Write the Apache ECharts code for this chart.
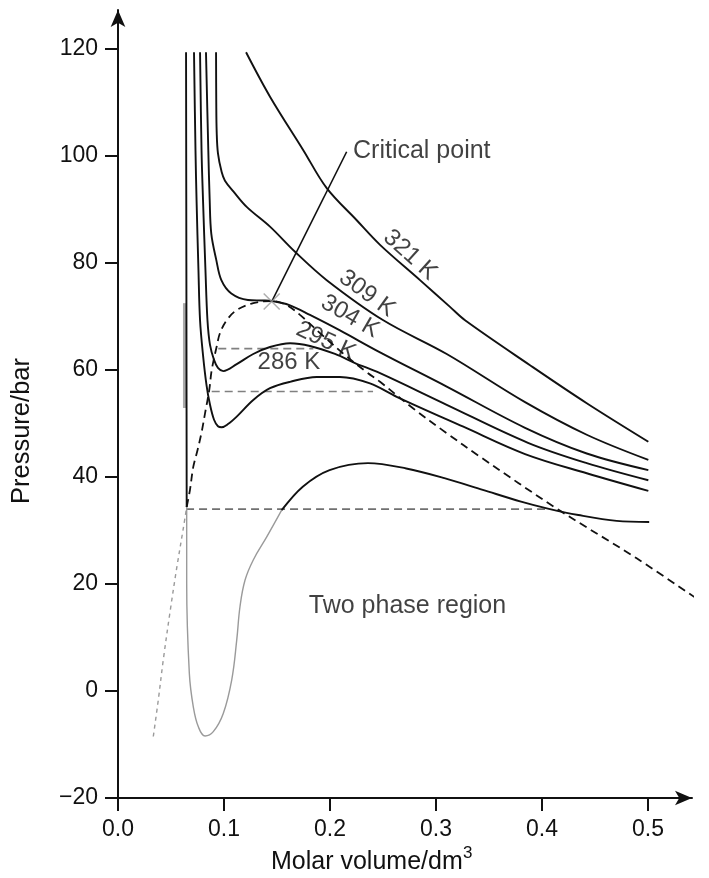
<!DOCTYPE html>
<html><head><meta charset="utf-8">
<script src="https://cdn.jsdelivr.net/npm/echarts@6/dist/echarts.min.js"></script>
<style>html,body{margin:0;padding:0;background:#fff}#c{width:709px;height:878px}</style>
</head><body><div id="c"></div>
<script>
// ---- tick labels ----
const xTicks = [0, 0.1, 0.2, 0.3, 0.4, 0.5];
const yTicks = [-20, 0, 20, 40, 60, 80, 100, 120];

// ---- isotherms [molar volume dm3, pressure bar] ----
const iso321 = [[0.1208,119.4],[0.1434,111.1],[0.1748,101.1],[0.1969,94.0],[0.2252,88.0],[0.2472,83.4],[0.2849,76.8],[0.3132,71.8],[0.3274,69.3],[0.3887,60.9],[0.4422,53.8],[0.5003,46.6]];
const iso309 = [[0.0925,119.4],[0.0927,110.0],[0.0931,104.5],[0.0943,100.5],[0.0978,97.0],[0.1009,95.4],[0.1088,93.4],[0.1214,90.5],[0.1434,86.8],[0.1670,82.1],[0.1969,76.8],[0.2503,69.3],[0.3101,63.0],[0.3840,54.0],[0.4422,47.9],[0.5003,43.2]];
const iso304 = [[0.0830,119.4],[0.0852,101.0],[0.0865,91.8],[0.0880,85.5],[0.0927,80.6],[0.0975,76.8],[0.1069,74.3],[0.1226,73.1],[0.1358,73.0],[0.1453,72.9],[0.1623,72.1],[0.1811,70.3],[0.2094,67.4],[0.2472,63.3],[0.3101,56.9],[0.3840,49.2],[0.4422,44.4],[0.5003,41.3]];
const iso295 = [[0.0774,119.4],[0.0788,101.1],[0.0802,91.8],[0.0825,78.7],[0.0844,69.3],[0.0868,64.7],[0.0906,61.9],[0.0943,60.4],[0.0993,59.8],[0.1120,61.1],[0.1276,63.0],[0.1434,64.3],[0.1623,65.0],[0.1811,64.5],[0.2047,63.0],[0.2236,61.3],[0.2472,59.4],[0.3101,53.5],[0.3868,46.4],[0.4422,42.6],[0.5003,39.4]];
const iso286 = [[0.0717,119.4],[0.0731,101.1],[0.0741,91.8],[0.0759,78.7],[0.0774,69.3],[0.0802,62.8],[0.0835,57.2],[0.0868,53.5],[0.0906,50.7],[0.0943,49.5],[0.0978,49.3],[0.1038,49.9],[0.1120,51.3],[0.1276,54.4],[0.1434,56.6],[0.1623,57.8],[0.1875,58.7],[0.2094,58.7],[0.2377,57.5],[0.2629,55.0],[0.3258,49.4],[0.3840,44.3],[0.4422,40.7],[0.5003,37.4]];
// lowest isotherm: liquid branch, unstable loop (grey), gas branch
const lowLeft  = [[0.0642,119.4],[0.0645,80.0],[0.0648,34.4]];
const lowLoop  = [[0.0648,34.4],[0.0648,20.1],[0.0673,3.3],[0.0710,-2.9],[0.0758,-6.7],[0.0821,-8.4],[0.0899,-7.6],[0.0993,-4.2],[0.1073,2.1],[0.1120,9.5],[0.1151,15.8],[0.1198,20.7],[0.1276,24.5],[0.1403,28.8],[0.1544,33.8]];
const lowRight = [[0.1544,33.8],[0.1743,38.2],[0.1996,41.3],[0.2358,42.6],[0.2719,41.6],[0.3079,39.8],[0.3441,37.6],[0.3802,35.4],[0.4055,34.1],[0.4343,32.9],[0.4704,31.8],[0.5011,31.6]];
// coexistence boundary (dashed) and its grey extension
const dome = [[0.0648,34.4],[0.0679,37.6],[0.0710,41.9],[0.0750,45.0],[0.0790,48.5],[0.0821,51.9],[0.0861,56.3],[0.0884,60.0],[0.0931,64.4],[0.0962,66.9],[0.1025,69.3],[0.1120,71.2],[0.1276,72.5],[0.1453,72.9],[0.1594,72.1],[0.1717,70.3],[0.1906,66.9],[0.2142,62.8],[0.2346,59.6],[0.2472,57.8],[0.2786,52.8],[0.3101,48.2],[0.3415,43.8],[0.4139,34.1],[0.4893,24.8],[0.5575,15.7]];
const domeExt = [[0.0333,-8.5],[0.0380,-1.7],[0.0427,5.8],[0.0491,14.8],[0.0554,23.0],[0.0616,30.4],[0.0648,34.4]];
// horizontal (equal-area) tie lines
const tie64 = [[0.0946,64],[0.1843,64]];
const tie56 = [[0.0884,56],[0.2406,56]];
const tie34 = [[0.0642,34],[0.4057,34]];
// grey liquid bar, critical point, leader line
const liquidBar = [[0.0627,72.5],[0.0627,52.9]];
const critical = [[0.1450,72.8]];
const leader = [[0.1450,72.8],[0.2157,100.8]];

const FONT = '"Liberation Sans", Arial, Helvetica, sans-serif';
const TXT = '#111';

function curve(data, color, width, type, smooth, z) {
  return {type:'line', data:data, showSymbol:false, symbol:'none', silent:true,
    smooth: smooth === undefined ? 0.35 : smooth, clip:false, z: z || 2,
    lineStyle:{color:color, width:width, type:type || 'solid'}};
}

const chart = echarts.init(document.getElementById('c'), null, {renderer:'canvas'});
chart.setOption({
  animation:false,
  backgroundColor:'#fff',
  grid:{left:118, right:17, top:10, bottom:80, containLabel:false, outerBoundsMode:'none'},
  xAxis:{type:'value', min:0, max:0.5415,
    axisLine:{show:true, onZero:false, symbol:['none','arrow'], symbolSize:[11,17], lineStyle:{color:'#111', width:2}},
    axisTick:{show:true, inside:false, length:13, customValues:xTicks, lineStyle:{color:'#111', width:2}},
    axisLabel:{customValues:xTicks, formatter:v=>v.toFixed(1), margin:20, fontSize:23, color:TXT, fontFamily:FONT},
    splitLine:{show:false}},
  yAxis:{type:'value', min:-20, max:127.3,
    axisLine:{show:true, onZero:false, symbol:['none','arrow'], symbolSize:[11,17], lineStyle:{color:'#111', width:2}},
    axisTick:{show:true, inside:false, length:13, customValues:yTicks, lineStyle:{color:'#111', width:2}},
    axisLabel:{customValues:yTicks, formatter:v=>v<0?'\u2212'+Math.abs(v):String(v), margin:20, fontSize:23, color:TXT, fontFamily:FONT},
    splitLine:{show:false}},
  graphic:[
    {type:'text', x:22, y:431, rotation:Math.PI/2, style:{text:'Pressure/bar', font:'25.5px '+FONT, fill:TXT, align:'center', verticalAlign:'middle'}},
    {type:'text', x:271, y:862, style:{text:'Molar volume/dm', font:'25px '+FONT, fill:TXT, align:'left', verticalAlign:'middle'}},
    {type:'text', x:463, y:845, style:{text:'3', font:'17px '+FONT, fill:TXT, align:'left', verticalAlign:'top'}}
  ],
  series:[
    curve(liquidBar, '#aaaaaa', 3, 'solid', 0, 1),
    curve(tie64, '#808080', 1.6, [8,5], 0),
    curve(tie56, '#808080', 1.6, [8,5], 0),
    curve(tie34, '#707070', 1.6, [8,5], 0),
    curve(domeExt, '#9a9a9a', 1.4, [4,4]),
    curve(dome, '#111', 1.8, [8,5]),
    curve(iso321, '#111', 1.9),
    curve(iso309, '#111', 1.9),
    curve(iso304, '#111', 1.9),
    curve(iso295, '#111', 1.9),
    curve(iso286, '#111', 1.9),
    curve(lowLeft, '#111', 1.9, 'solid', 0),
    curve(lowLoop, '#9a9a9a', 1.4, 'solid', 0.4),
    curve(lowRight, '#111', 1.9),
    curve(leader, '#111', 1.6, 'solid', 0),
    {type:'scatter', data:critical, silent:true, z:5,
      symbol:'path://M0,0L10,10M10,0L0,10', symbolSize:16,
      itemStyle:{color:'rgba(0,0,0,0)', borderColor:'#9a9a9a', borderWidth:1.5}},
    {type:'scatter', silent:true, symbolSize:0, z:6,
      label:{show:true, position:'inside', color:TXT, fontSize:24, fontFamily:FONT},
      data:[
        {value:[0.2755,81.5], label:{formatter:'321 K', rotate:-42}},
        {value:[0.2349,74.3], label:{formatter:'309 K', rotate:-36}},
        {value:[0.2189,70.0], label:{formatter:'304 K', rotate:-30}},
        {value:[0.1962,65.4], label:{formatter:'295 K', rotate:-25}},
        {value:[0.1613,61.4], label:{formatter:'286 K'}},
        {value:[0.2217,101.0], label:{formatter:'Critical point', position:'right', distance:0, fontSize:25}},
        {value:[0.2731,15.9], label:{formatter:'Two phase region', fontSize:25}}
      ]}
  ]
});
</script>
</body></html>
